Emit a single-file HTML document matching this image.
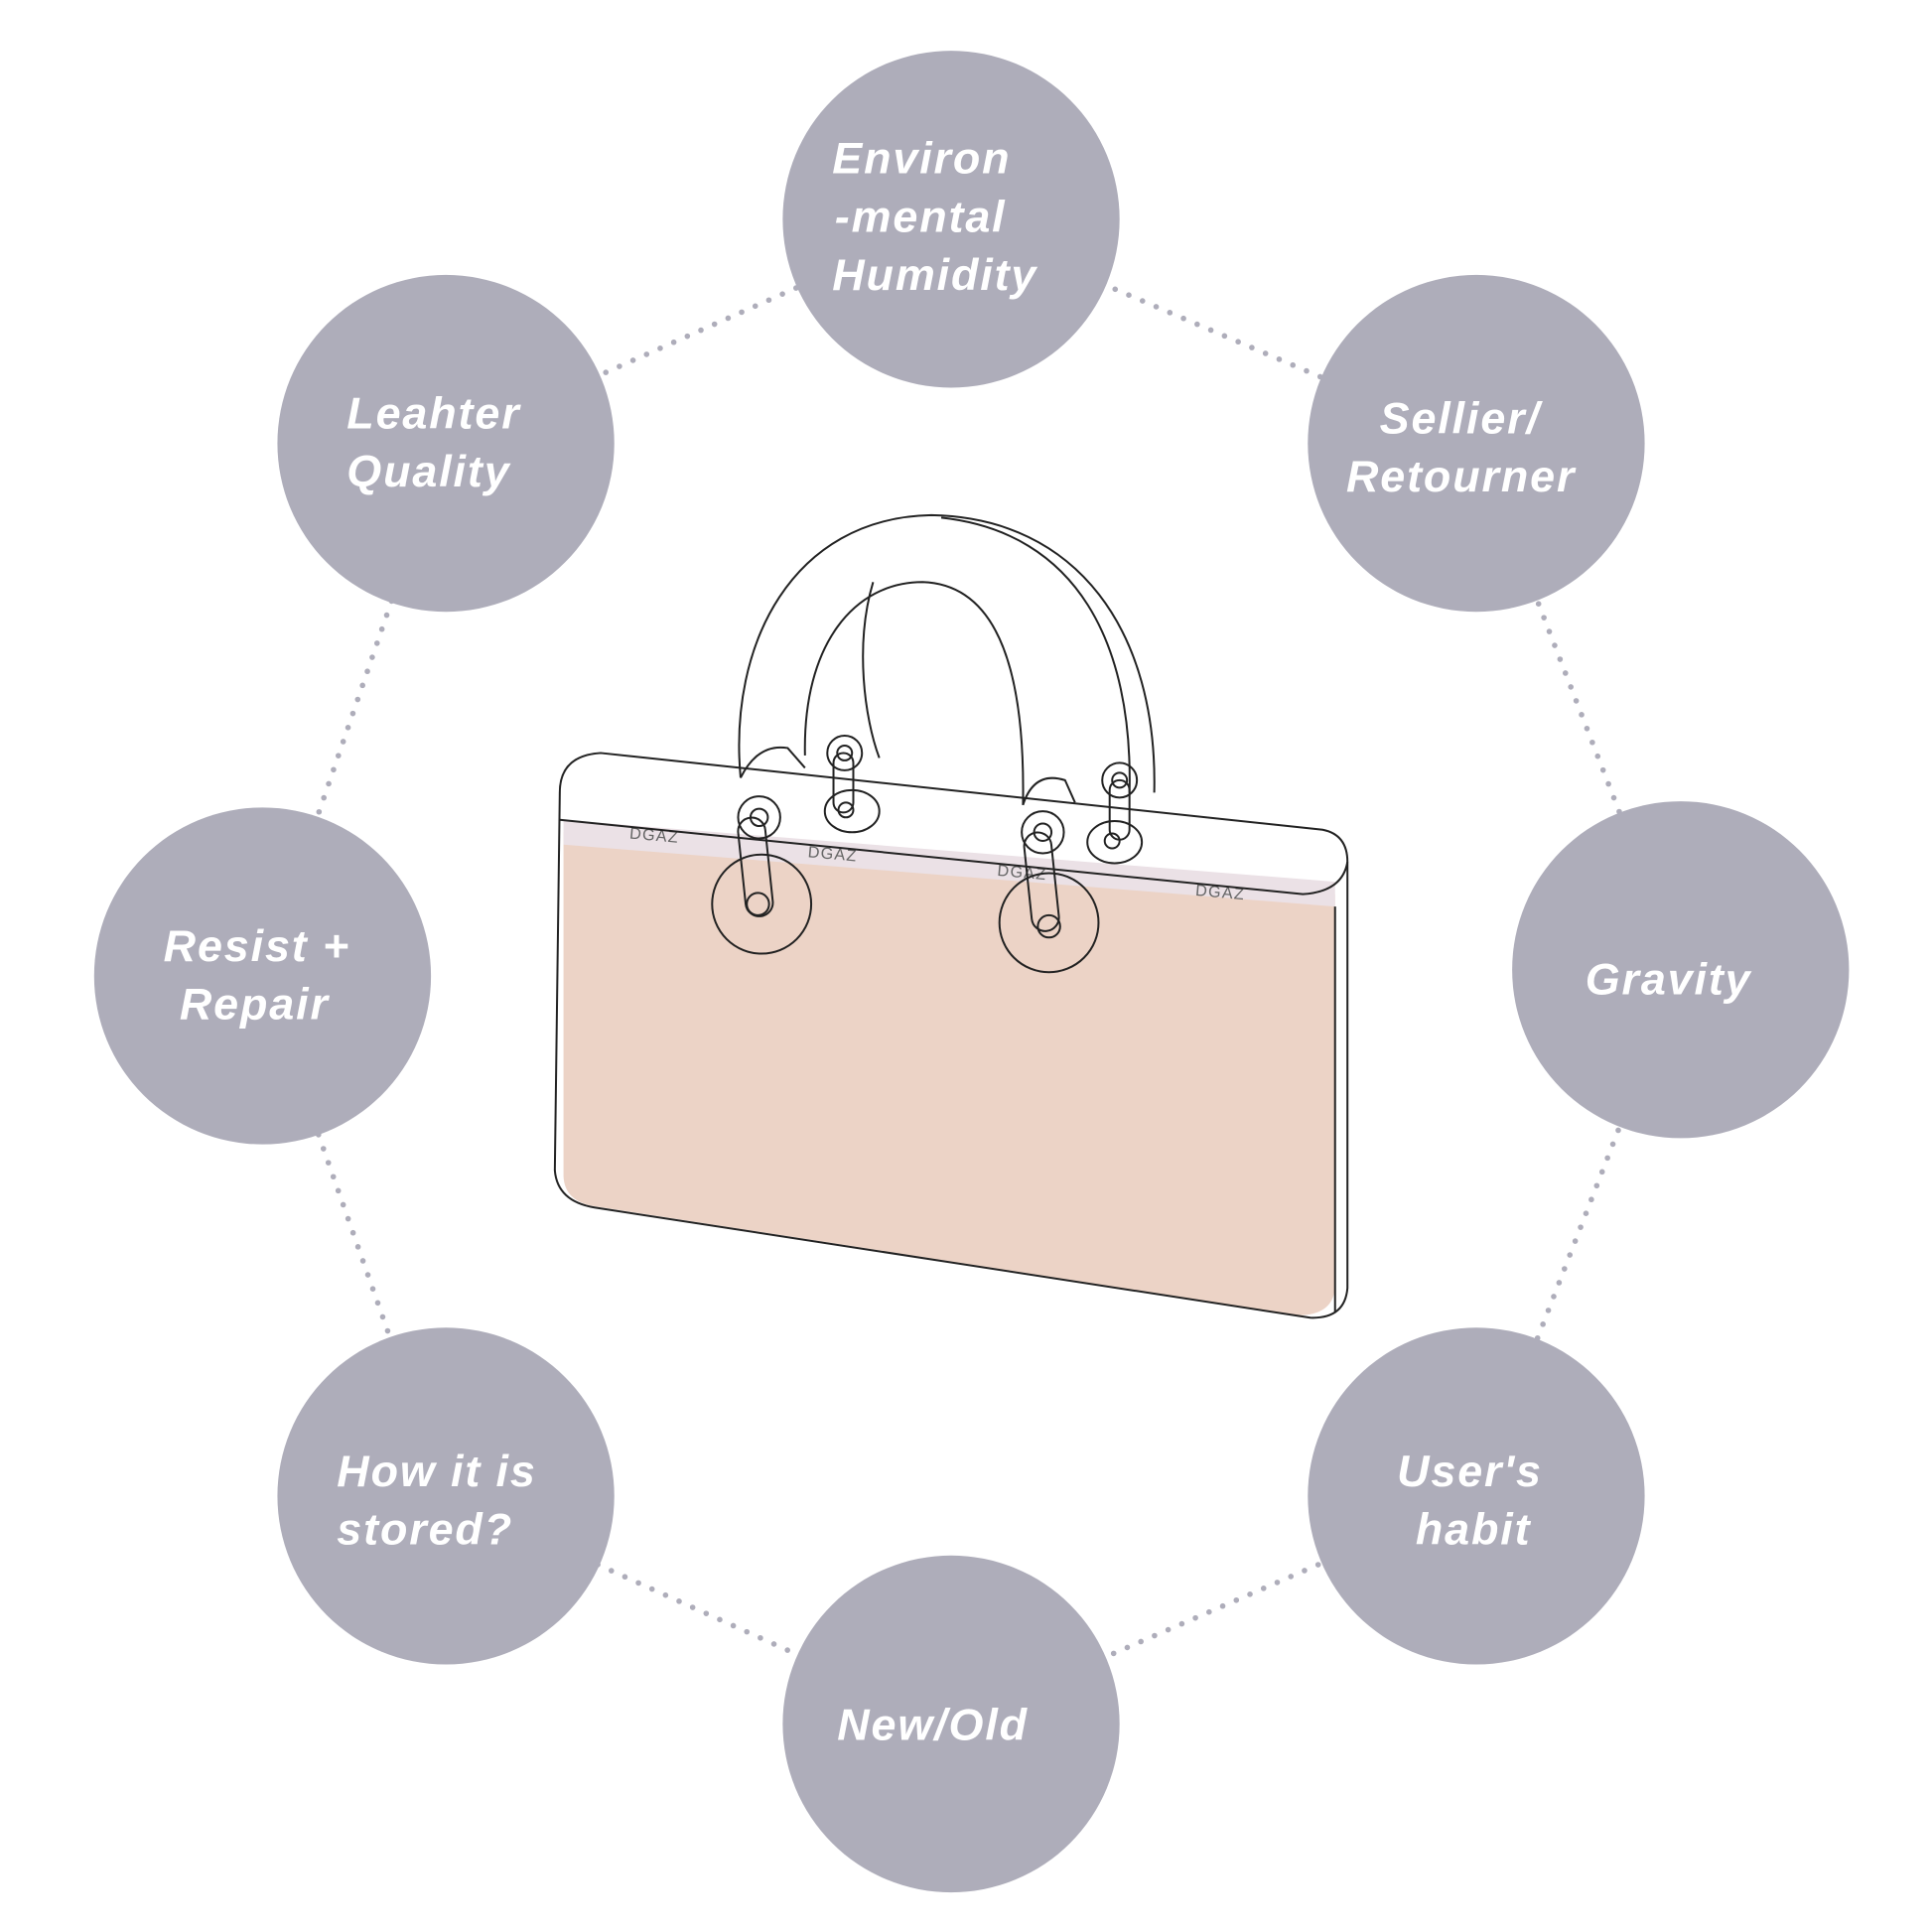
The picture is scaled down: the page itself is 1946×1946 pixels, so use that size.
<!DOCTYPE html>
<html><head><meta charset="utf-8"><style>
html,body{margin:0;padding:0;background:#fff}
svg{display:block}
text{font-family:"Liberation Sans","DejaVu Sans",sans-serif;font-weight:bold;font-style:italic;fill:#fff;letter-spacing:1.5px}
</style></head><body>
<svg width="1946" height="1946" viewBox="0 0 1560 1560" xmlns="http://www.w3.org/2000/svg">
<rect width="1560" height="1560" fill="#fff"/>
<g stroke="#aeadba" stroke-width="4.5" stroke-linecap="round" stroke-dasharray="0 12" fill="none">
<polyline points="768,177 1192,358 1357,783 1192,1208 768,1392 360,1208 212,788 360,358 768,177"/>
</g>
<g fill="#aeadba">
<circle cx="768" cy="177" r="136"/>
<circle cx="360" cy="358" r="136"/>
<circle cx="1192" cy="358" r="136"/>
<circle cx="212" cy="788" r="136"/>
<circle cx="1357" cy="783" r="136"/>
<circle cx="360" cy="1208" r="136"/>
<circle cx="1192" cy="1208" r="136"/>
<circle cx="768" cy="1392" r="136"/>
</g>
<g font-size="36">
<text x="672" y="140">Environ</text>
<text x="674" y="187">-mental</text>
<text x="672" y="234">Humidity</text>
<text x="280" y="346">Leahter</text>
<text x="280" y="393">Quality</text>
<text x="1114" y="350">Sellier/</text>
<text x="1087" y="397">Retourner</text>
<text x="132" y="776">Resist +</text>
<text x="145" y="823">Repair</text>
<text x="1280" y="803">Gravity</text>
<text x="272" y="1200">How it is</text>
<text x="272" y="1247">stored?</text>
<text x="1128" y="1200">User's</text>
<text x="1143" y="1247">habit</text>
<text x="676" y="1405">New/Old</text>
</g>
<path d="M455,672 L1078,722 L1078,1040 Q1076,1062 1048,1062 L480,974 Q456,970 455,950 Z" fill="#ecd3c6"/>
<path d="M455,662 L1078,712 L1078,732 L455,682 Z" fill="#ebe1e6"/>
<g font-size="13">
<text x="508" y="677" transform="rotate(5 508 677)" style="fill:#666;font-weight:normal;font-style:normal;letter-spacing:1px">DGAZ</text>
<text x="652" y="692" transform="rotate(5 652 692)" style="fill:#666;font-weight:normal;font-style:normal;letter-spacing:1px">DGAZ</text>
<text x="805" y="707" transform="rotate(5 805 707)" style="fill:#666;font-weight:normal;font-style:normal;letter-spacing:1px">DGAZ</text>
<text x="965" y="723" transform="rotate(5 965 723)" style="fill:#666;font-weight:normal;font-style:normal;letter-spacing:1px">DGAZ</text>
</g>
<g fill="none" stroke="#222" stroke-width="1.6">
<path d="M452,640 Q452,610 485,608 L1068,670 Q1088,674 1088,696 L1088,1040 Q1086,1065 1058,1064 L480,975 Q450,970 448,945 Z"/>
<path d="M452,662 L1052,722 Q1084,720 1088,696"/>
<path d="M1078,732 L1078,1060"/>
<path d="M598,628 C588,520 640,418 752,416 C870,418 935,510 932,640"/>
<path d="M650,610 C648,520 690,470 745,470 C805,472 828,540 826,650"/>
<path d="M598,628 Q612,600 636,604 L650,620"/>
<path d="M705,470 C690,520 698,580 710,612"/>
<path d="M760,418 C870,430 915,520 912,640"/>
<path d="M826,650 Q835,622 860,630 L868,648"/>
<circle cx="615" cy="730" r="40"/>
<circle cx="613" cy="660" r="17"/><circle cx="613" cy="660" r="7"/>
<rect x="599" y="660" width="22" height="80" rx="11" transform="rotate(-6 610 700)"/>
<circle cx="612" cy="730" r="9"/>
<ellipse cx="688" cy="655" rx="22" ry="17"/><circle cx="683" cy="654" r="6"/>
<circle cx="682" cy="608" r="14"/><circle cx="682" cy="608" r="6"/>
<rect x="673" y="608" width="16" height="48" rx="8"/>
<circle cx="847" cy="745" r="40"/>
<circle cx="842" cy="672" r="17"/><circle cx="842" cy="672" r="7"/>
<rect x="830" y="672" width="22" height="80" rx="11" transform="rotate(-6 841 712)"/>
<circle cx="847" cy="748" r="9"/>
<ellipse cx="900" cy="680" rx="22" ry="17"/><circle cx="898" cy="679" r="6"/>
<circle cx="904" cy="630" r="14"/><circle cx="904" cy="630" r="6"/>
<rect x="896" y="630" width="16" height="48" rx="8"/>
</g>
</svg>
</body></html>
